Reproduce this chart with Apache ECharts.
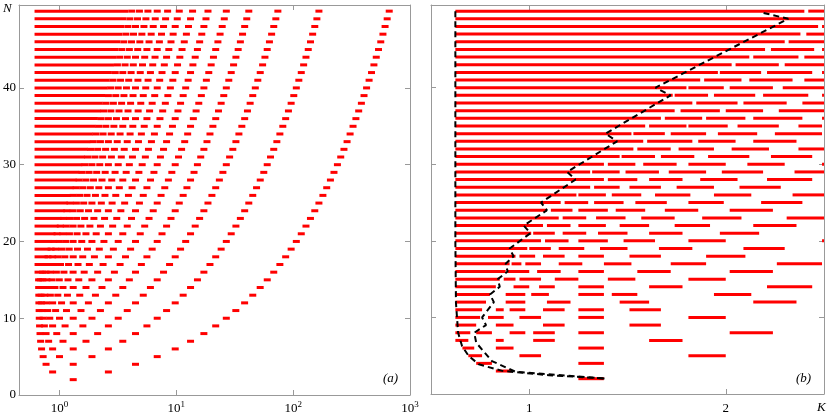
<!DOCTYPE html>
<html><head><meta charset="utf-8">
<script src="https://cdn.jsdelivr.net/npm/echarts@6/dist/echarts.min.js"></script>
<style>html,body{margin:0;padding:0;background:#fff}#c{width:830px;height:415px}</style>
</head><body><div id="c"></div>
<script>
// Panel (a): dash centres per row N (index 0 => N=2)
const aRows = [
[1.31],
[2.62,0.873],
[4.47,1.31,0.767],
[6.86,1.896,1.0,0.724],
[9.78,2.62,1.31,0.873,0.702],
[13.23,3.48,1.685,1.071,0.807,0.689],
[17.21,4.47,2.12,1.31,0.947,0.767,0.681],
[21.72,5.6,2.62,1.585,1.116,0.873,0.742,0.675],
[26.77,6.86,3.18,1.896,1.31,1.0,0.825,0.724,0.671],
[32.3,8.25,3.80,2.24,1.527,1.147,0.926,0.792,0.711,0.669],
[38.4,9.78,4.47,2.62,1.767,1.31,1.041,0.873,0.767,0.702,0.666],
[45.1,11.44,5.21,3.03,2.03,1.49,1.169,0.967,0.835,0.749,0.695,0.665],
[52.2,13.23,6.0,3.48,2.31,1.685,1.31,1.071,0.914,0.807,0.735,0.689,0.663],
[60.0,15.16,6.86,3.96,2.62,1.894,1.461,1.182,0.995,0.863,0.78,0.72,0.685,0.662],
[68.19,17.21,7.77,4.47,2.95,2.12,1.626,1.307,1.091,0.94,0.831,0.767,0.716],
[76.95,19.40,8.75,5.02,3.30,2.36,1.80,1.44,1.195,1.02,0.90,0.805,0.753],
[86.24,21.72,9.78,5.60,3.67,2.62,1.99,1.58,1.31,1.11,0.97,0.873,0.797],
[96.07,24.18,10.87,6.21,4.06,2.89,2.19,1.735,1.425,1.21,1.05,0.927,0.847],
[106.4,26.77,12.02,6.86,4.47,3.18,2.40,1.894,1.55,1.307,1.13,0.995,0.892],
[117.3,29.49,13.23,7.54,4.91,3.48,2.62,2.06,1.684,1.414,1.216,1.066,0.952],
[128.7,32.35,14.50,8.25,5.36,3.80,2.85,2.24,1.82,1.525,1.307,1.142,1.016],
[140.6,35.32,15.82,9.00,5.84,4.13,3.09,2.43,1.97,1.64,1.40,1.22,1.083],
[153.1,38.45,17.21,9.78,6.34,4.47,3.35,2.62,2.12,1.77,1.505,1.307,1.155],
[166.1,41.70,18.65,10.59,6.86,4.83,3.61,2.82,2.28,1.894,1.61,1.395,1.229],
[179.7,45.09,20.16,11.44,7.40,5.21,3.89,3.03,2.45,2.03,1.72,1.487,1.307],
[193.7,48.60,21.72,12.32,7.96,5.60,4.18,3.25,2.62,2.17,1.835,1.583,1.388],
[208.4,52.26,23.35,13.23,8.55,6.01,4.47,3.48,2.80,2.31,1.955,1.684,1.473],
[223.5,56.04,25.03,14.17,9.15,6.43,4.78,3.72,2.99,2.46,2.08,1.79,1.56],
[239.2,59.96,26.77,15.15,9.78,6.86,5.10,3.96,3.18,2.62,2.21,1.894,1.652],
[255.3,64.0,28.57,16.17,10.43,7.31,5.43,4.21,3.38,2.78,2.34,2.01,1.747],
[272.1,68.19,30.43,17.21,11.09,7.77,5.77,4.47,3.58,2.95,2.48,2.12,1.845],
[289.3,72.50,32.35,18.29,11.79,8.25,6.12,4.74,3.80,3.12,2.62,2.24,1.946],
[307.1,76.95,34.32,19.40,12.50,8.75,6.49,5.02,4.02,3.30,2.77,2.36,2.05],
[325.4,81.53,36.36,20.55,13.23,9.26,6.86,5.31,4.24,3.48,2.92,2.49,2.16],
[344.3,86.24,38.45,21.73,13.98,9.78,7.24,5.60,4.47,3.67,3.07,2.62,2.27],
[363.7,91.09,40.61,22.94,14.76,10.32,7.64,5.90,4.71,3.86,3.23,2.75,2.38],
[383.6,96.07,42.82,24.18,15.56,10.87,8.05,6.21,4.96,4.06,3.40,2.89,2.50],
[404.0,101.2,45.09,25.46,16.37,11.44,8.46,6.53,5.21,4.26,3.56,3.03,2.62],
[425.0,106.4,47.42,26.77,17.21,12.02,8.89,6.86,5.47,4.47,3.74,3.18,2.74],
[446.5,111.8,49.81,28.11,18.07,12.62,9.33,7.20,5.73,4.69,3.91,3.33,2.87],
[468.5,117.3,52.25,29.49,18.95,13.23,9.78,7.54,6.00,4.91,4.10,3.48,3.00],
[491.1,122.9,54.76,30.90,19.86,13.86,10.24,7.89,6.28,5.13,4.28,3.64,3.13],
[514.2,128.7,57.33,32.35,20.78,14.50,10.71,8.25,6.57,5.36,4.47,3.80,3.27],
[537.8,134.6,59.95,33.82,21.72,15.15,11.19,8.62,6.86,5.60,4.67,3.96,3.41],
[562.0,140.7,62.64,35.33,22.69,15.83,11.69,9.00,7.16,5.84,4.87,4.13,3.55],
[586.7,146.8,65.39,36.88,23.68,16.51,12.19,9.39,7.46,6.09,5.07,4.30,3.70],
[611.9,153.1,68.19,38.45,24.69,17.21,12.70,9.78,7.77,6.34,5.28,4.47,3.85],
[637.7,159.6,71.05,40.06,25.72,17.93,13.23,10.18,8.09,6.60,5.49,4.65,4.00],
[664.0,166.1,73.97,41.70,26.77,18.66,13.77,10.59,8.42,6.86,5.71,4.83,4.15]
];
// Panel (a): dense band [start,end] for rows N=16..50
const aBandStart = 0.655;
const aBandEnd = [0.681,0.708,0.742,0.781,0.813,0.863,0.918,0.974,1.035,1.099,1.165,1.234,1.307,1.38,1.461,1.542,1.626,1.712,1.80,1.894,1.99,2.09,2.19,2.29,2.40,2.51,2.62,2.73,2.85,2.97,3.09,3.22,3.35,3.48,3.61];
const aBandFirstN = 16;

// Panel (b): red segments [K0,K1] per row N (index 0 => N=2)
const bRows = [
[[1.25,1.38]],
[[0.83,0.91]],
[[0.73,0.81],[1.25,1.38]],
[[0.69,0.76],[0.95,1.06],[1.81,2.00]],
[[0.66,0.72],[0.83,0.92],[1.25,1.38]],
[[0.624,0.69],[0.83,0.87],[1.02,1.13],[1.61,1.78]],
[[0.624,0.70],[0.73,0.81],[0.90,0.98],[1.02,1.13],[1.25,1.38],[2.02,2.24]],
[[0.624,0.73],[0.83,0.92],[1.07,1.18],[1.51,1.67]],
[[0.624,0.75],[0.79,0.87],[0.95,1.06],[1.25,1.38],[1.81,2.00]],
[[0.624,0.76],[0.83,0.87],[0.90,0.98],[1.07,1.18],[1.25,1.38],[1.51,1.67]],
[[0.624,0.78],[0.88,0.98],[1.09,1.21],[1.46,1.61],[2.14,2.36]],
[[0.624,0.80],[0.88,0.98],[1.01,1.10],[1.25,1.38],[1.42,1.55],[1.94,2.13]],
[[0.624,0.83],[0.92,1.00],[1.05,1.13],[1.25,1.38],[1.61,1.78],[2.21,2.44]],
[[0.624,0.85],[0.87,0.93],[0.95,1.06],[1.13,1.25],[1.40,1.54],[1.81,2.00]],
[[0.624,0.88],[0.89,1.00],[1.04,1.16],[1.25,1.38],[1.55,1.72],[2.02,2.24]],
[[0.624,0.90],[0.91,0.96],[0.98,1.06],[1.15,1.27],[1.38,1.52],[1.72,1.90],[2.26,2.49]],
[[0.624,0.93],[0.95,1.03],[1.07,1.18],[1.25,1.38],[1.51,1.67],[1.90,2.10]],
[[0.624,0.99],[1.00,1.11],[1.15,1.28],[1.36,1.50],[1.66,1.83],[2.09,2.30]],
[[0.624,1.06],[1.08,1.20],[1.25,1.40],[1.48,1.64],[1.81,2.00],[2.49,2.5]],
[[0.624,1.01],[1.02,1.13],[1.17,1.29],[1.35,1.50],[1.61,1.78],[1.97,2.17]],
[[0.624,1.07],[1.09,1.21],[1.25,1.39],[1.46,1.61],[1.74,1.92],[2.14,2.36]],
[[0.624,1.15],[1.17,1.29],[1.34,1.49],[1.57,1.74],[1.88,2.08],[2.31,2.5]],
[[0.624,1.09],[1.11,1.22],[1.25,1.40],[1.44,1.59],[1.69,1.86],[2.02,2.24]],
[[0.624,1.16],[1.18,1.30],[1.33,1.48],[1.54,1.70],[1.81,1.99],[2.18,2.39]],
[[0.624,1.24],[1.25,1.39],[1.42,1.57],[1.64,1.82],[1.94,2.13],[2.34,2.5]],
[[0.624,1.31],[1.33,1.46],[1.51,1.67],[1.75,1.94],[2.07,2.28]],
[[0.624,1.38],[1.40,1.55],[1.61,1.78],[1.87,2.06],[2.21,2.44]],
[[0.624,1.31],[1.32,1.46],[1.49,1.66],[1.71,1.90],[1.98,2.19],[2.35,2.5]],
[[0.624,1.38],[1.40,1.54],[1.58,1.75],[1.81,2.00],[2.11,2.30],[2.49,2.5]],
[[0.624,1.46],[1.47,1.64],[1.67,1.84],[1.91,2.12],[2.23,2.44]],
[[0.624,1.53],[1.55,1.72],[1.76,1.94],[2.03,2.22],[2.37,2.5]],
[[0.624,1.58],[1.60,1.83],[1.86,2.05],[2.14,2.36]],
[[0.624,1.52],[1.53,1.69],[1.72,1.90],[1.96,2.16],[2.25,2.49]],
[[0.624,1.59],[1.61,1.80],[1.81,2.01],[2.06,2.27],[2.37,2.49]],
[[0.624,1.67],[1.69,1.88],[1.90,2.10],[2.14,2.39],[2.49,2.5]],
[[0.624,1.74],[1.77,1.97],[2.00,2.19],[2.27,2.5]],
[[0.624,1.83],[1.85,2.06],[2.09,2.31],[2.39,2.5]],
[[0.624,1.73],[1.74,1.91],[1.94,2.15],[2.19,2.42],[2.49,2.5]],
[[0.624,1.80],[1.81,1.99],[2.02,2.24],[2.29,2.5]],
[[0.624,1.87],[1.89,2.08],[2.12,2.34],[2.40,2.5]],
[[0.624,1.96],[1.97,2.18],[2.21,2.44],[2.49,2.5]],
[[0.624,2.03],[2.05,2.27],[2.30,2.5]],
[[0.624,2.12],[2.14,2.37],[2.40,2.5]],
[[0.624,2.20],[2.23,2.45],[2.49,2.5]],
[[0.624,2.30],[2.32,2.5]],
[[0.624,2.38],[2.41,2.5]],
[[0.624,2.47],[2.49,2.5]],
[[0.624,2.5]],
[[0.624,2.40],[2.42,2.5]]
];
const bFirstN = 2;
// Panel (b): black dashed curves [K,N]
const curveA = [[0.624,50],[0.624,20],[0.627,11.9],[0.638,8],[0.658,6.26],[0.692,4.96],[0.743,3.88],[0.862,3.02],[1.10,2.46],[1.383,2.02]];
const curveB = [[1.383,2.02],[0.93,2.9],[0.81,4.3],[0.73,6.7],[0.72,8],[0.78,9],[0.76,10],[0.82,12],[0.80,13],[0.85,14],[0.84,15],[0.89,16],[0.88,17],[0.92,18],[0.90,19],[1.006,21],[0.972,22],[1.09,24],[1.06,25],[1.235,28],[1.193,29],[1.447,33],[1.388,34],[1.719,39],[1.643,40],[2.318,49],[2.186,49.8]];
const aTicks = [1,10,100,1000];
const bTicks = [1,2];
const yTicks = [0,10,20,30,40];

// build data
const aDash = [], aBand = [], bSeg = [];
aRows.forEach((r,i)=>r.forEach(x=>aDash.push([x,i+2])));
aBandEnd.forEach((e,i)=>aBand.push([aBandStart,e,i+aBandFirstN]));
bRows.forEach((r,i)=>r.forEach(s=>bSeg.push([s[0],s[1],i+bFirstN])));

const FONT='Liberation Serif';
const RED='#ff0000';
function segItem(ext){
  return function(params, api){
    const y=api.value(2);
    const p0=api.coord([api.value(0),y]), p1=api.coord([api.value(1),y]);
    return {type:'rect',shape:{x:p0[0]-ext,y:p0[1]-1.5,width:p1[0]-p0[0]+2*ext,height:3},style:{fill:RED}};
  };
}
function dashItem(params, api){
  const p=api.coord([api.value(0),api.value(1)]);
  return {type:'rect',shape:{x:p[0]-3.5,y:p[1]-1.5,width:7,height:3},style:{fill:RED}};
}
const axLine={lineStyle:{color:'#999',width:1}};
const tick={inside:true,length:5,lineStyle:{color:'#999'}};
const yBase={type:'value',min:0,max:50.8,axisLine:{show:true,...axLine},splitLine:{show:false}};
const xA={type:'log',min:0.45,max:1000,splitLine:{show:false},axisLine:{show:true,onZero:false,...axLine}};
const xB={type:'value',min:0.5,max:2.5,splitLine:{show:false},axisLine:{show:true,onZero:false,...axLine}};
const chart=echarts.init(document.getElementById('c'));
chart.setOption({
  animation:false,
  grid:[{left:15,top:5,width:395,height:393},{left:431,top:5,width:393,height:393}],
  xAxis:[
    {...xA,gridIndex:0,position:'bottom',axisTick:{...tick,customValues:aTicks},
     axisLabel:{customValues:aTicks,margin:5,fontFamily:FONT,fontSize:13,color:'#000',
       formatter:v=>'10{s|'+Math.round(Math.log10(v))+'}',rich:{s:{fontSize:9,verticalAlign:'top',padding:[0,0,8,0],fontFamily:FONT,color:'#000'}}}},
    {...xA,gridIndex:0,position:'top',axisTick:{...tick,customValues:aTicks},axisLabel:{show:false}},
    {...xB,gridIndex:1,position:'bottom',axisTick:{...tick,customValues:bTicks},
     axisLabel:{customValues:bTicks,margin:8,fontFamily:FONT,fontSize:13,color:'#000'}},
    {...xB,gridIndex:1,position:'top',axisTick:{...tick,customValues:bTicks},axisLabel:{show:false}}
  ],
  yAxis:[
    {...yBase,gridIndex:0,position:'left',axisTick:{...tick,customValues:yTicks},axisLabel:{customValues:yTicks,margin:3,fontFamily:FONT,fontSize:13,color:'#000'}},
    {...yBase,gridIndex:0,position:'right',axisTick:{...tick,customValues:yTicks},axisLabel:{show:false}},
    {...yBase,gridIndex:1,position:'left',axisTick:{...tick,customValues:yTicks},axisLabel:{show:false}},
    {...yBase,gridIndex:1,position:'right',axisTick:{...tick,customValues:yTicks},axisLabel:{show:false}}
  ],
  series:[
    {type:'custom',xAxisIndex:0,yAxisIndex:0,data:aBand,encode:{x:[0,1],y:2},renderItem:segItem(3.5),clip:true},
    {type:'custom',xAxisIndex:0,yAxisIndex:0,data:aDash,encode:{x:0,y:1},renderItem:dashItem,clip:true},
    {type:'custom',xAxisIndex:2,yAxisIndex:2,data:bSeg,encode:{x:[0,1],y:2},renderItem:segItem(0),clip:true},
    {type:'line',xAxisIndex:2,yAxisIndex:2,data:curveA,showSymbol:false,symbol:'none',lineStyle:{color:'#000',width:2,type:[6,4]},z:5},
    {type:'line',xAxisIndex:2,yAxisIndex:2,data:curveB,showSymbol:false,symbol:'none',lineStyle:{color:'#000',width:2,type:[6,4]},z:5}
  ],
  graphic:[
    {type:'text',left:3,top:2,style:{text:'N',font:'italic 13px "Liberation Serif"',fill:'#000'}},
    {type:'text',left:383,top:372,style:{text:'(a)',font:'italic 13px "Liberation Serif"',fill:'#000'}},
    {type:'text',left:796,top:372,style:{text:'(b)',font:'italic 13px "Liberation Serif"',fill:'#000'}},
    {type:'text',left:817,top:401,style:{text:'K',font:'italic 13px "Liberation Serif"',fill:'#000'}}
  ]
});
</script></body></html>
